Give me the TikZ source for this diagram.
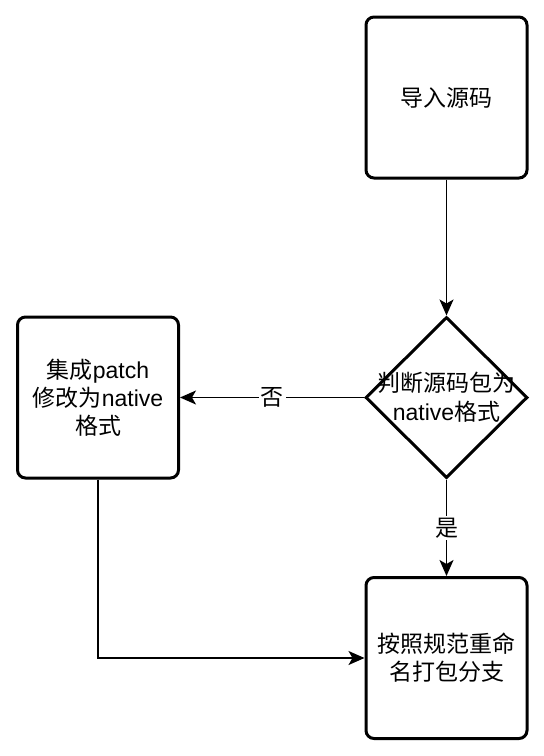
\documentclass[tikz,border=0pt]{standalone}
\usepackage{fontspec}
\setmainfont{Liberation Sans}
\newfontfamily\cjk{Noto Sans CJK SC}
\usetikzlibrary{shapes.geometric,arrows.meta}

\tikzset{
  stepbox/.style={draw=black, line width=3pt, rounded corners=8pt, fill=white,
    minimum width=161pt, minimum height=161pt, inner sep=0pt, align=center,
    font=\fontsize{23pt}{28pt}\selectfont},
  decision/.style={draw=black, line width=3pt, diamond, aspect=1, fill=white,
    minimum width=162pt, minimum height=161pt, inner sep=0pt},
  flowtext/.style={align=center, inner sep=0pt, font=\fontsize{23pt}{29pt}\selectfont},
  flow/.style={draw=black, line width=1.5pt,
    -{Stealth[length=16pt, width=14pt, inset=4pt]}},
  edgelabel/.style={fill=white, inner sep=2pt, font=\cjk\fontsize{23pt}{28pt}\selectfont}
}

\begin{document}
\begin{tikzpicture}[x=1pt, y=-1pt]
  \useasboundingbox (0,0) rectangle (544,756);

  % process steps
  \node[stepbox] (import) at (446.5,97.5) {{\cjk 导入源码}};
  \node[decision] (check) at (446.5,397.5) {};
  \node[flowtext] (checktext) at (446.5,397.5) {{\cjk 判断源码包为}\\native{\cjk 格式}};
  \node[stepbox] (patch) at (98,397.5) {{\cjk 集成}patch\\{\cjk 修改为}native\\{\cjk 格式}};
  \node[stepbox] (rename) at (446.5,658) {{\cjk 按照规范重命}\\{\cjk 名打包分支}};

  % connectors
  \draw[flow] (import.south) -- (check.north);
  \draw[flow] (check.west) -- node[edgelabel] (nolabel) {否} (patch.east);
  \draw[flow] (check.south) -- node[edgelabel] (yeslabel) {是} (rename.north);
  \draw[flow] (patch.south) |- (rename.west);
\end{tikzpicture}
\end{document}
